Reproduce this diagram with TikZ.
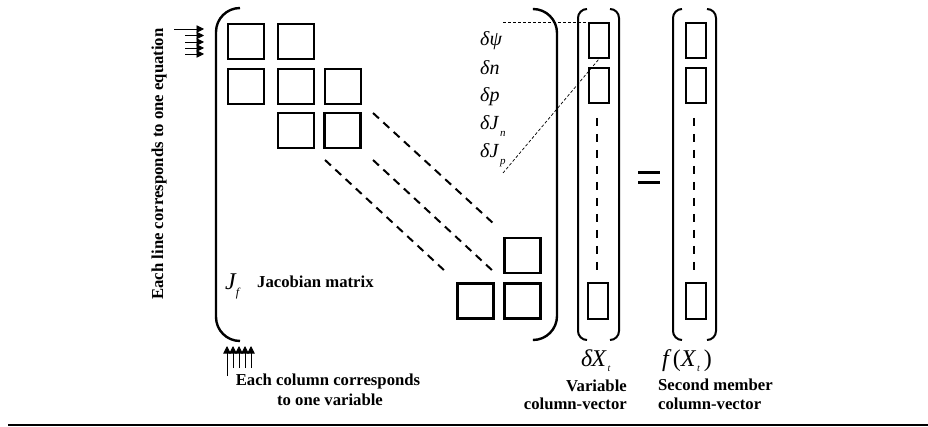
\documentclass[tikz,border=0pt]{standalone}
\usepackage{fontspec}
\setmainfont{Liberation Serif}
\usetikzlibrary{arrows.meta}
\begin{document}
\begin{tikzpicture}[x=1pt,y=-1pt,
  sq/.style={draw,line width=2.4pt,minimum width=36pt,minimum height=35pt,inner sep=0pt},
  vrect/.style={draw,line width=2pt,minimum width=20pt,minimum height=35pt,inner sep=0pt},
  brk/.style={line width=2.4pt,rounded corners=24pt},
  vbrk/.style={line width=2pt,rounded corners=9pt},
  diag/.style={line width=2pt,dash pattern=on 8pt off 6pt},
  vdash/.style={line width=2pt,dash pattern=on 8pt off 8pt},
  thindash/.style={line width=0.7pt,dash pattern=on 3pt off 2pt},
  lab/.style={font=\fontsize{16.7}{18.5}\selectfont\bfseries,inner sep=0pt},
  var/.style={font=\fontsize{20}{22}\selectfont\itshape,inner sep=0pt,anchor=base west},
  big/.style={font=\fontsize{24}{26}\selectfont\itshape,inner sep=0pt,anchor=base west},
  arr/.style={line width=0.9pt,-{Triangle[length=7.5pt,width=7.5pt]}}
]
\useasboundingbox (0,0) rectangle (928,427);

% matrix brackets
\draw[brk] (240,8) -- (216,8) -- (216,341) -- (240,341);
\draw[brk] (535,9) -- (557,9) -- (557,340) -- (535,340);

% vector brackets
\draw[vbrk] (587,9) -- (578,9) -- (578,340) -- (587,340);
\draw[vbrk] (610,9) -- (619,9) -- (619,340) -- (610,340);
\draw[vbrk] (682,9) -- (673,9) -- (673,340) -- (682,340);
\draw[vbrk] (707,9) -- (716,9) -- (716,340) -- (707,340);

% matrix blocks
\node[sq] (a11) at (246,41.5) {};
\node[sq] (a12) at (296,41.5) {};
\node[sq] (a21) at (246,86.5) {};
\node[sq] (a22) at (296,86.5) {};
\node[sq] (a23) at (343,86.5) {};
\node[sq] (a32) at (296,130.5) {};
\node[sq] (a33) at (342.5,130.5) {};
\node[sq] (b1) at (522.5,255.5) {};
\node[sq] (b2) at (475.5,301) {};
\node[sq] (b3) at (522.5,301) {};

% diagonal dashes
\coordinate (d1s) at (373,113); \coordinate (d1e) at (494,224);
\coordinate (d2s) at (373,160); \coordinate (d2e) at (494,272);
\coordinate (d3s) at (325,160); \coordinate (d3e) at (446,272);
\draw[diag] (d1s) -- (d1e);
\draw[diag] (d2s) -- (d2e);
\draw[diag] (d3s) -- (d3e);

% variable vector
\node[vrect] (v1) at (599,40.5) {};
\node[vrect] (v2) at (599,85.5) {};
\node[vrect] (v3) at (598,301) {};
\coordinate (v2d) at (597,118);
\coordinate (v3d) at (597,270);
\draw[vdash] (v2d) -- (v3d);

% second member vector
\node[vrect] (f1) at (696,40.5) {};
\node[vrect] (f2) at (696,85.5) {};
\node[vrect] (f3) at (696,301) {};
\coordinate (f2d) at (694,118);
\coordinate (f3d) at (694,270);
\draw[vdash] (f2d) -- (f3d);

% equals sign
\coordinate (e1) at (638,173); \coordinate (e2) at (660,173);
\coordinate (e3) at (638,183); \coordinate (e4) at (660,183);
\draw[line width=3pt] (e1) -- (e2);
\draw[line width=3pt] (e3) -- (e4);

% variable labels
\node[var] (dpsi) at (480,46) {δψ};
\node[var] (dn) at (480,75) {δn};
\node[var] (dp) at (480,102) {δp};
\node[var] (dJn) at (480,130) {δJ\raisebox{-7pt}{\fontsize{11}{11}\selectfont\itshape\,n}};
\node[var] (dJp) at (480,158) {δJ\raisebox{-7pt}{\fontsize{11}{11}\selectfont\itshape\,p}};

% thin dashed leaders
\coordinate (h1) at (503,22);
\coordinate (h2) at (503,173);
\draw[thindash] (h1) -- (v1.north);
\draw[thindash] (h2) -- (v1.south);

% left arrows (rows)
\coordinate (la1) at (174,29);  \coordinate (lb1) at (204,29);
\coordinate (la2) at (185,35.5);\coordinate (lb2) at (204,35.5);
\coordinate (la3) at (185,42);  \coordinate (lb3) at (204,42);
\coordinate (la4) at (185,48);  \coordinate (lb4) at (204,48);
\coordinate (la5) at (185,54);  \coordinate (lb5) at (204,54);
\foreach \i in {1,...,5} \draw[arr] (la\i) -- (lb\i);

% bottom arrows (columns)
\coordinate (ca1) at (227,376); \coordinate (cb1) at (227,346);
\coordinate (ca2) at (233,368); \coordinate (cb2) at (233,346);
\coordinate (ca3) at (239,368); \coordinate (cb3) at (239,346);
\coordinate (ca4) at (245,368); \coordinate (cb4) at (245,346);
\coordinate (ca5) at (251,368); \coordinate (cb5) at (251,346);
\foreach \i in {1,...,5} \draw[arr] (ca\i) -- (cb\i);

% texts
\node[lab,rotate=90] (eachline) at (159,164) {Each line corresponds to one equation};
\node[lab,anchor=base] (eachcol) at (328,385) {Each column corresponds};
\node[lab,anchor=base] (onevar) at (330,405) {to one variable};
\node[big] (jf) at (225,290) {J\raisebox{-7pt}{\fontsize{12}{12}\selectfont\itshape f}};
\node[lab,anchor=base west] (jm) at (257,288) {Jacobian matrix};
\node[big] (dx) at (581,366) {δ\kern-1pt X\raisebox{-5pt}{\fontsize{10}{10}\selectfont\itshape\,t}};
\node[big] (fx) at (662,366) {f\,\upshape(\itshape X\raisebox{-5pt}{\fontsize{10}{10}\selectfont\itshape\,t}\upshape\,)};
\node[lab,anchor=base east] (varl1) at (627,391) {Variable};
\node[lab,anchor=base east] (varl2) at (627,409) {column-vector};
\node[lab,anchor=base west] (sec1) at (658,390) {Second member};
\node[lab,anchor=base west] (sec2) at (658,409) {column-vector};

% bottom rule
\coordinate (r1) at (8,425); \coordinate (r2) at (928,425);
\draw[line width=1.5pt] (r1) -- (r2);
\end{tikzpicture}
\end{document}
